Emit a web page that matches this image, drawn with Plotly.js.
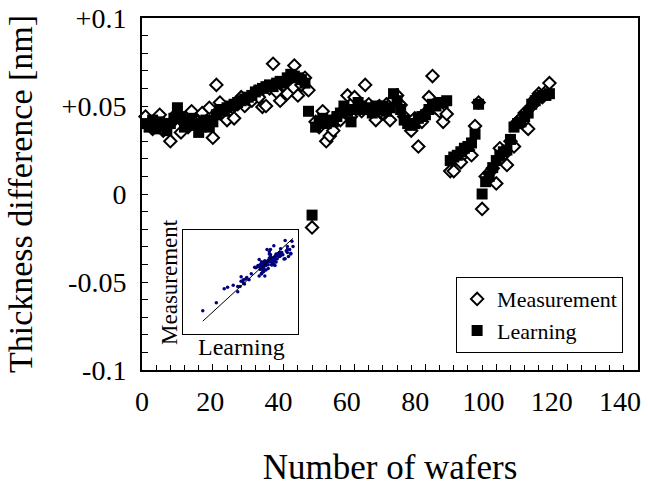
<!DOCTYPE html>
<html>
<head>
<meta charset="utf-8">
<script src="https://cdn.plot.ly/plotly-3.0.1.min.js"></script>
<style>html,body{margin:0;padding:0;background:#fff;}#chart{width:648px;height:487px;}</style>
</head>
<body>
<div id="chart"></div>
<script>
// Wafer numbers
var wafers = [1,2,3,4,5,6,7,8,9,10,11,12,13,14,15,16,17,18,19,20,
  21,22,23,24,25,26,27,28,29,30,31,32,33,34,35,36,37,38,39,40,
  41,42,43,44,45,46,47,48,49,50,51,52,53,54,55,56,57,58,59,60,
  61,62,63,64,65,66,67,68,69,70,71,72,73,74,75,76,77,78,79,80,
  81,82,83,84,85,86,87,88,89,90,91,92,93,94,95,96,97,98,99,100,
  101,102,103,104,105,106,107,108,109,110,111,112,113,114,115];

// Measurement (open diamonds)
var measurement = [0.044,0.040,0.037,0.041,0.045,0.036,0.039,0.030,0.042,0.046,
  0.035,0.040,0.038,0.047,0.042,0.038,0.046,0.039,0.049,0.032,
  0.062,0.052,0.046,0.042,0.048,0.043,0.051,0.055,0.050,0.054,
  0.053,0.058,0.055,0.0495,0.050,0.060,0.074,0.058,0.053,0.062,
  0.057,0.066,0.073,0.056,0.062,0.066,0.059,-0.019,0.041,0.038,
  0.047,0.030,0.033,0.036,0.044,0.042,0.048,0.056,0.044,0.055,
  0.050,0.047,0.062,0.051,0.048,0.042,0.050,0.046,0.051,0.042,
  0.054,0.056,0.0506,0.044,0.041,0.036,0.043,0.027,0.041,0.046,
  0.055,0.067,0.049,0.047,0.041,0.0455,0.013,0.013,0.020,0.018,
  0.023,0.025,0.022,0.0386,0.052,-0.0085,0.010,0.012,0.0146,0.006,
  0.026,0.022,0.0165,0.030,0.027,0.041,0.043,0.046,0.037,0.050,
  0.054,0.057,0.055,0.058,0.063];

// Learning (filled squares)
var learning = [0.040,0.038,0.042,0.037,0.041,0.039,0.036,0.040,0.043,0.049,
  0.044,0.038,0.041,0.043,0.039,0.035,0.040,0.042,0.038,0.041,
  0.045,0.048,0.047,0.049,0.050,0.051,0.052,0.053,0.054,0.055,
  0.056,0.058,0.059,0.060,0.061,0.062,0.061,0.063,0.064,0.063,
  0.066,0.068,0.067,0.066,0.065,0.063,0.047,-0.012,0.038,0.041,
  0.043,0.040,0.042,0.041,0.044,0.046,0.050,0.047,0.041,0.048,
  0.052,0.050,0.048,0.049,0.046,0.050,0.048,0.050,0.047,0.049,
  0.057,0.053,0.048,0.042,0.040,0.039,0.040,0.043,0.044,0.045,
  0.048,0.051,0.050,0.052,0.052,0.053,0.019,0.021,0.022,0.024,
  0.026,0.027,0.029,0.034,0.051,0.000,0.007,0.010,0.015,0.019,
  0.022,0.024,0.025,0.031,0.038,0.040,0.041,0.044,0.046,0.051,
  0.053,0.055,0.056,0.056,0.057];

// Inset reference line (learning vs measurement)
var fitX = [-0.012, 0.068];
var fitY = [-0.033, 0.077];

// Tick labels
var yTickVals = [-0.1, -0.05, 0, 0.05, 0.1];
var yTickText = ['-0.1', '-0.05', '0', '+0.05', '+0.1'];
var xTickVals = [0, 20, 40, 60, 80, 100, 120, 140];
var xTickText = ['0', '20', '40', '60', '80', '100', '120', '140'];

var FONT = 'Liberation Serif, Times New Roman, serif';

var traces = [
  {
    x: wafers, y: measurement, type: 'scatter', mode: 'markers', name: 'Measurement',
    marker: {symbol: 'diamond', size: 9.5, color: '#ffffff', line: {color: '#000000', width: 2}},
    xaxis: 'x', yaxis: 'y', cliponaxis: false
  },
  {
    x: wafers, y: learning, type: 'scatter', mode: 'markers', name: 'Learning',
    marker: {symbol: 'square', size: 11, color: '#000000', line: {width: 0}},
    xaxis: 'x', yaxis: 'y', cliponaxis: false
  },
  {
    x: learning, y: measurement, type: 'scatter', mode: 'markers', showlegend: false,
    marker: {symbol: 'circle', size: 3.5, color: '#000080'},
    xaxis: 'x2', yaxis: 'y2'
  },
  {
    x: fitX, y: fitY, type: 'scatter', mode: 'lines', showlegend: false,
    line: {color: '#000000', width: 1},
    xaxis: 'x2', yaxis: 'y2'
  },
  {
    // empty trace that only registers the label axis
    x: [], y: [], type: 'scatter', mode: 'markers', showlegend: false, hoverinfo: 'skip',
    xaxis: 'x3', yaxis: 'y'
  }
];

var layout = {
  width: 648, height: 487,
  margin: {l: 142, r: 10, t: 18, b: 117},
  paper_bgcolor: '#ffffff', plot_bgcolor: '#ffffff',
  font: {family: FONT, color: '#000000'},
  showlegend: true,
  legend: {
    x: 0.97, y: 0.048, xanchor: 'right', yanchor: 'bottom',
    bordercolor: '#000000', borderwidth: 1, bgcolor: '#ffffff',
    font: {family: FONT, size: 22, color: '#000000'},
    itemwidth: 30, tracegroupgap: 0
  },
  xaxis: {
    range: [0, 140],
    tickmode: 'linear', tick0: 0, dtick: 20,
    ticks: 'inside', ticklen: 6, tickwidth: 1, tickcolor: '#000',
    minor: {dtick: 4, tick0: 0, ticks: 'inside', ticklen: 5, tickwidth: 1, tickcolor: '#000'},
    showline: true, linecolor: '#000', linewidth: 2, mirror: true,
    showgrid: false, zeroline: false, showticklabels: false
  },
  xaxis3: {
    overlaying: 'x', anchor: 'y', side: 'bottom', range: [0, 145.27],
    tickmode: 'array', tickvals: xTickVals, ticktext: xTickText,
    ticks: '', showline: false, showgrid: false, zeroline: false,
    tickfont: {family: FONT, size: 28, color: '#000'},
    ticklabelstandoff: 12,
    title: {text: 'Number of wafers', font: {family: FONT, size: 35, color: '#000'}, standoff: 38}
  },
  yaxis: {
    range: [-0.1, 0.1], tickmode: 'array', tickvals: yTickVals, ticktext: yTickText,
    ticks: 'inside', ticklen: 6, tickwidth: 1, tickcolor: '#000',
    minor: {dtick: 0.01, tick0: 0, ticks: 'inside', ticklen: 6, tickwidth: 1, tickcolor: '#000'},
    showline: true, linecolor: '#000', linewidth: 2, mirror: true,
    showgrid: false, zeroline: false,
    tickfont: {family: FONT, size: 28, color: '#000'},
    ticklabelstandoff: 8,
    title: {text: 'Thickness difference [nm]', font: {family: FONT, size: 34, color: '#000'}, standoff: 19}
  },
  xaxis2: {
    domain: [0.0827, 0.3145], anchor: 'y2', range: [-0.0295, 0.0724],
    showline: true, linecolor: '#000', linewidth: 1, mirror: true,
    showticklabels: false, ticks: '', showgrid: false, zeroline: false
  },
  yaxis2: {
    domain: [0.1023, 0.3977], anchor: 'x2', range: [-0.050, 0.088],
    showline: true, linecolor: '#000', linewidth: 1, mirror: true,
    showticklabels: false, ticks: '', showgrid: false, zeroline: false
  },
  annotations: [
    {text: 'Measurement', xref: 'paper', yref: 'paper', x: 0.0544, y: 0.25,
     xanchor: 'center', yanchor: 'middle',
     textangle: -90, showarrow: false, font: {family: FONT, size: 23, color: '#000'}},
    {text: 'Learning', xref: 'paper', yref: 'paper', x: 0.1996, y: 0.0653,
     xanchor: 'center', yanchor: 'middle',
     showarrow: false, font: {family: FONT, size: 24, color: '#000'}}
  ]
};

Plotly.newPlot('chart', traces, layout, {displayModeBar: false, staticPlot: true});
</script>
</body>
</html>
